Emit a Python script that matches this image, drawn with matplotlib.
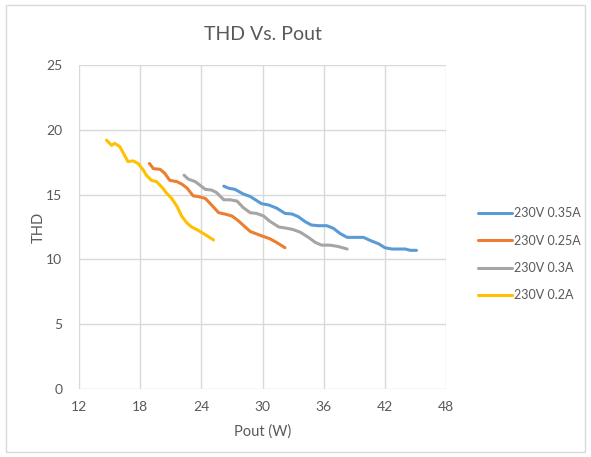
import matplotlib.pyplot as plt
from matplotlib.patches import Rectangle

plt.rcParams['font.family'] = ['Lato', 'DejaVu Sans']

# --- data ---
labels = ["230V 0.35A", "230V 0.25A", "230V 0.3A", "230V 0.2A"]
colors = ["#5B9BD5", "#ED7D31", "#A5A5A5", "#FFC000"]

pout_035 = [26.2, 26.65, 27.3, 28.1, 28.8, 29.3, 29.9, 30.6, 31.4, 32.2, 32.9, 33.5,
            34.2, 34.8, 35.5, 36.3, 36.95, 37.6, 38.3, 39.1, 39.9, 40.6, 41.4, 42.0,
            42.7, 44.0, 44.5, 45.1]
thd_035 = [15.65, 15.5, 15.4, 15.05, 14.85, 14.6, 14.3, 14.2, 13.95, 13.55, 13.5, 13.3,
           12.9, 12.65, 12.6, 12.6, 12.4, 12.0, 11.7, 11.7, 11.7, 11.45, 11.2, 10.9,
           10.8, 10.8, 10.7, 10.7]

pout_025 = [18.9, 19.3, 19.95, 20.4, 20.9, 21.6, 22.1, 22.6, 23.2, 23.7, 24.4, 25.0,
            25.7, 26.3, 27.0, 27.6, 28.3, 28.8, 29.8, 30.7, 31.4, 32.2]
thd_025 = [17.4, 17.0, 16.95, 16.65, 16.1, 16.0, 15.8, 15.5, 14.9, 14.85, 14.7, 14.2,
           13.6, 13.5, 13.35, 13.0, 12.5, 12.15, 11.85, 11.6, 11.3, 10.9]

pout_03 = [22.3, 22.7, 23.4, 23.9, 24.4, 25.0, 25.5, 26.2, 26.8, 27.5, 28.1, 28.8,
           29.4, 30.1, 30.7, 31.6, 32.4, 33.0, 33.7, 34.5, 35.2, 35.8, 36.6, 37.4, 38.3]
thd_03 = [16.5, 16.2, 16.0, 15.7, 15.4, 15.35, 15.15, 14.6, 14.6, 14.5, 14.0, 13.6,
          13.55, 13.35, 12.95, 12.5, 12.4, 12.3, 12.1, 11.7, 11.3, 11.1, 11.1, 11.0, 10.8]

pout_02 = [14.7, 15.2, 15.5, 16.0, 16.35, 16.8, 17.3, 17.8, 18.3, 18.6, 19.1, 19.6,
           20.1, 20.6, 21.1, 21.6, 22.1, 22.6, 23.05, 23.55, 24.2, 25.2]
thd_02 = [19.2, 18.8, 18.95, 18.7, 18.2, 17.55, 17.6, 17.4, 16.9, 16.5, 16.1, 16.0,
          15.6, 15.1, 14.7, 14.1, 13.3, 12.8, 12.5, 12.3, 12.0, 11.5]

series = [(pout_035, thd_035), (pout_025, thd_025), (pout_03, thd_03), (pout_02, thd_02)]

x_ticks = [12, 18, 24, 30, 36, 42, 48]
y_ticks = [0, 5, 10, 15, 20, 25]

txt = "#595959"
grid = "#D9D9D9"

fig = plt.figure(figsize=(5.91, 4.57), dpi=100)
fig.patches.append(Rectangle((0.01, 0.01), 0.98, 0.98, transform=fig.transFigure,
                             fill=False, edgecolor=grid, linewidth=1))
ax = fig.add_axes([0.1337, 0.1488, 0.6210, 0.7090])

for (x, y), lab, c in zip(series, labels, colors):
    ax.plot(x, y, color=c, linewidth=2.2, label=lab, solid_capstyle='round')

ax.set_xlim(12, 48)
ax.set_ylim(0, 25)
ax.set_xticks(x_ticks)
ax.set_yticks(y_ticks)
ax.grid(True, color=grid, linewidth=1)
ax.set_axisbelow(True)
for s in ax.spines.values():
    s.set_visible(False)
ax.tick_params(length=0, labelsize=10, colors=txt)
ax.tick_params(axis='x', pad=9)
ax.tick_params(axis='y', pad=12)

ax.set_title("THD Vs. Pout", fontsize=14, color=txt, pad=18)
ax.set_xlabel("Pout (W)", fontsize=10.5, color=txt, labelpad=8)
ax.set_ylabel("THD", fontsize=10.5, color=txt, labelpad=0)

leg = ax.legend(loc='upper left', bbox_to_anchor=(1.057, 0.595), frameon=False,
                fontsize=9, handlelength=2.7, handletextpad=0.15, labelspacing=1.22)
for t in leg.get_texts():
    t.set_color(txt)

fig.savefig("out.png", dpi=100)
